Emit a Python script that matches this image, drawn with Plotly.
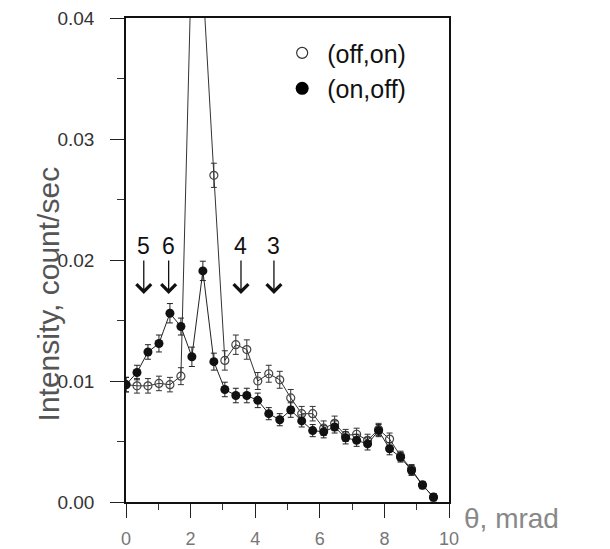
import plotly.graph_objects as go

# ---- data ----
theta = [0.00, 0.34, 0.68, 1.02, 1.36, 1.70, 2.04, 2.38, 2.72, 3.06,
         3.40, 3.74, 4.08, 4.42, 4.76, 5.10, 5.44, 5.78, 6.12, 6.46,
         6.80, 7.14, 7.48, 7.82, 8.16, 8.50, 8.84, 9.18, 9.52]

off_on = [0.0097, 0.0096, 0.0096, 0.0098, 0.0097, 0.0104, 0.0460, 0.0430, 0.0270, 0.0117,
          0.0130, 0.0126, 0.0100, 0.0106, 0.0101, 0.0086, 0.0073, 0.0073, 0.0061, 0.0065,
          0.0055, 0.0056, 0.0051, 0.0060, 0.0052, 0.0038, 0.0027, 0.0014, 0.0004]
off_on_err = [0.0006, 0.0006, 0.0006, 0.0006, 0.0006, 0.0007, 0.0012, 0.0011, 0.0010, 0.0008,
              0.0008, 0.0008, 0.0007, 0.0007, 0.0007, 0.0007, 0.0006, 0.0006, 0.0006, 0.0006,
              0.0005, 0.0005, 0.0005, 0.0005, 0.0005, 0.0004, 0.0004, 0.0003, 0.0003]

on_off = [0.0097, 0.0107, 0.0124, 0.0131, 0.0156, 0.0145, 0.0120, 0.0191, 0.0116, 0.0093,
          0.0088, 0.0088, 0.0084, 0.0073, 0.0068, 0.0076, 0.0067, 0.0059, 0.0058, 0.0062,
          0.0053, 0.0051, 0.0048, 0.0059, 0.0044, 0.0037, 0.0026, 0.0014, 0.0004]
on_off_err = [0.0006, 0.0006, 0.0006, 0.0007, 0.0008, 0.0007, 0.0008, 0.0008, 0.0007, 0.0006,
              0.0006, 0.0006, 0.0006, 0.0005, 0.0005, 0.0006, 0.0005, 0.0005, 0.0005, 0.0005,
              0.0005, 0.0005, 0.0005, 0.0005, 0.0005, 0.0004, 0.0004, 0.0003, 0.0003]

arrow_labels = ["5", "6", "4", "3"]
arrow_theta = [0.55, 1.32, 3.56, 4.58]
arrow_tip = [0.0172, 0.0172, 0.0172, 0.0172]

series_names = ["(off,on)", "(on,off)"]
x_ticks = [0, 2, 4, 6, 8, 10]
y_ticks = [0.00, 0.01, 0.02, 0.03, 0.04]

FONT = "Liberation Sans, Arial, Helvetica, sans-serif"

fig = go.Figure()

fig.add_trace(go.Scatter(
    x=theta, y=off_on, mode="lines+markers", showlegend=False,
    line=dict(color="#333", width=1),
    marker=dict(symbol="circle-open", size=8, color="#444", line=dict(width=1.2)),
    error_y=dict(type="data", array=off_on_err, color="#333", thickness=1, width=3),
))
fig.add_trace(go.Scatter(
    x=theta, y=on_off, mode="lines+markers", showlegend=False,
    line=dict(color="#222", width=1),
    marker=dict(symbol="circle", size=9, color="#111"),
    error_y=dict(type="data", array=on_off_err, color="#222", thickness=1, width=3),
))

# legend-only entries (markers without line)
fig.add_trace(go.Scatter(
    x=[None], y=[None], mode="markers", name=series_names[0],
    marker=dict(symbol="circle-open", size=11, color="#333", line=dict(width=1.2)),
))
fig.add_trace(go.Scatter(
    x=[None], y=[None], mode="markers", name=series_names[1],
    marker=dict(symbol="circle", size=13, color="#000"),
))

for lab, xa, ya in zip(arrow_labels, arrow_theta, arrow_tip):
    fig.add_annotation(
        x=xa, y=ya, xref="x", yref="y", text=lab, showarrow=True,
        ax=0, ay=-48, arrowhead=4, arrowsize=2.2, arrowwidth=1.3,
        arrowcolor="#111", standoff=0, startstandoff=0,
        font=dict(family=FONT, size=23, color="#111"),
    )

# axis titles
fig.add_annotation(
    x=-0.297, y=0.43, xref="paper", yref="paper", text="Intensity, count/sec",
    textangle=-90, showarrow=False,
    font=dict(family=FONT, size=30, color="#555"),
)
fig.add_annotation(
    x=1.04, y=-0.07, xref="paper", yref="paper", text="θ, mrad",
    xanchor="left", showarrow=False,
    font=dict(family=FONT, size=28, color="#888"),
)

# the page adds an 8 px body margin, so the figure is 8 px smaller than the window
fig.update_layout(
    width=602, height=541,
    margin=dict(l=118, r=161, t=10, b=47, autoexpand=False),
    paper_bgcolor="white", plot_bgcolor="white",
    font=dict(family=FONT, color="#222"),
    legend=dict(
        x=0.468, y=0.975, xanchor="left", yanchor="top",
        font=dict(family=FONT, size=25, color="#111"),
        bgcolor="rgba(0,0,0,0)", itemwidth=40, tracegroupgap=0,
    ),
)

fig.update_xaxes(
    range=[0, 10], tickvals=x_ticks, ticktext=[str(v) for v in x_ticks],
    ticks="outside", ticklen=14, tickwidth=1.3, tickcolor="#222",
    minor=dict(ticks="outside", ticklen=6, dtick=1, tickcolor="#333", tickwidth=1),
    showline=True, linecolor="#111", linewidth=1.5, mirror=True,
    showgrid=False, zeroline=False, automargin=False,
    tickfont=dict(family=FONT, size=18, color="#777"),
    ticklabelstandoff=6, ticklabeloverflow="allow",
)
fig.update_yaxes(
    range=[0, 0.04], tickvals=y_ticks, ticktext=[f"{v:.2f}" for v in y_ticks],
    ticks="outside", ticklen=14, tickwidth=1.3, tickcolor="#222",
    minor=dict(ticks="outside", ticklen=7, dtick=0.005, tickcolor="#333", tickwidth=1),
    showline=True, linecolor="#111", linewidth=1.5, mirror=True,
    showgrid=False, zeroline=False, automargin=False,
    tickfont=dict(family=FONT, size=19, color="#333"),
    ticklabelstandoff=12, ticklabeloverflow="allow",
)

fig.write_html("out.html")
